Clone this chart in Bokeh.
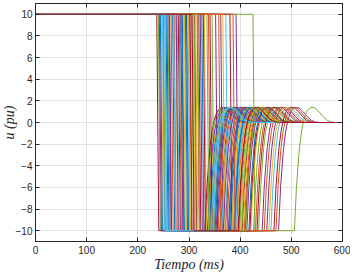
from bokeh.plotting import figure
from bokeh.models import Range1d, LinearAxis, FixedTicker, ColumnDataSource, CustomLabelingPolicy
from bokeh.embed import file_html
from bokeh.resources import INLINE

# Switching instants (ms): drop 10 -> -10, rise from -10
t_drop = [268, 301, 246, 392, 425, 283, 319, 255, 338, 274, 362, 240, 296, 311, 287, 249,
          330, 262, 305, 372, 279, 244, 316, 291, 352, 259, 298, 237, 325, 271, 308, 284,
          345, 253, 380, 293, 265, 313, 242, 335, 277, 302, 257, 358, 289, 322, 250, 270,
          341, 295, 281, 366, 261, 310, 248, 328, 286, 386, 299, 275, 317, 252, 306]
t_rise = [360, 393, 338, 475, 506, 378, 410, 349, 430, 365, 452, 333, 386, 404, 381, 344,
          421, 353, 399, 460, 371, 340, 408, 383, 443, 350, 391, 331, 417, 362, 401, 377,
          436, 346, 466, 388, 357, 406, 336, 426, 370, 396, 351, 447, 384, 413, 342, 364,
          433, 389, 374, 456, 355, 403, 343, 419, 379, 470, 394, 367, 411, 347, 397]

# Recovery waveform after the rise instant (offset ms, value pu)
rise_offset = [0, 2, 4, 7, 10, 14, 19, 25, 32, 40, 48, 56, 64, 72, 80]
rise_value = [-10, -8, -6, -4, -2.3, -0.8, 0.4, 1.1, 1.4, 1.35, 1.0, 0.55, 0.2, 0.05, 0]
u_high = 10
u_low = -10
drop_time = 4
t_end = 600

x_ticks = [0, 100, 200, 300, 400, 500, 600]
y_ticks = [-10, -8, -6, -4, -2, 0, 2, 4, 6, 8, 10]

matlab_colors = ["#0072BD", "#D95319", "#EDB120", "#7E2F8E", "#77AC30", "#4DBEEE", "#A2142F"]

xs, ys, cols = [], [], []
for i, (a, b) in enumerate(zip(t_drop, t_rise)):
    x = [0, a, a + drop_time, b] + [b + o for o in rise_offset[1:]] + [t_end]
    y = [u_high, u_high, u_low, u_low] + rise_value[1:] + [0]
    xs.append(x)
    ys.append(y)
    cols.append(matlab_colors[i % len(matlab_colors)])

src = ColumnDataSource(dict(xs=xs, ys=ys, color=cols))

p = figure(width=352, height=274, x_range=Range1d(0, 600), y_range=Range1d(-11, 11),
           output_backend="svg", toolbar_location=None,
           min_border_left=36, min_border_right=8, min_border_top=3, min_border_bottom=31,
           margin=(0, 0, 0, -2))
p.background_fill_color = "white"
p.border_fill_color = "white"
p.outline_line_color = "#262626"
p.outline_line_width = 1
p.outline_line_alpha = 1

p.multi_line(xs="xs", ys="ys", line_color="color", line_width=1, source=src)

tick_font = "Liberation Sans"
for ax in (p.xaxis[0], p.yaxis[0]):
    ax.axis_line_color = "#262626"
    ax.major_tick_line_color = "#262626"
    ax.major_tick_in = 4
    ax.major_tick_out = 0
    ax.minor_tick_line_color = None
    ax.major_label_text_font = tick_font
    ax.major_label_text_font_size = "10px"
    ax.major_label_text_color = "#262626"
    ax.axis_label_text_font = "Liberation Serif"
    ax.axis_label_text_font_style = "italic"
    ax.axis_label_text_font_size = "14px"
    ax.axis_label_text_color = "#262626"

p.xaxis.ticker = FixedTicker(ticks=x_ticks)
p.yaxis.ticker = FixedTicker(ticks=y_ticks)
p.xaxis.axis_label = "Tiempo (ms)"
p.yaxis.axis_label = "u (pu)"
p.xaxis.major_label_standoff = 4
p.yaxis.major_label_standoff = 3
p.xaxis.axis_label_standoff = 0
p.yaxis.axis_label_standoff = -4

for loc, ticks in (("above", x_ticks), ("right", y_ticks)):
    ax = LinearAxis(ticker=FixedTicker(ticks=ticks), major_label_text_font_size="0px",
                    major_label_policy=CustomLabelingPolicy(code="return []"),
                    major_label_standoff=0, major_tick_in=4, major_tick_out=0,
                    minor_tick_line_color=None, axis_line_color="#262626",
                    major_tick_line_color="#262626")
    p.add_layout(ax, loc)

p.xgrid.ticker = FixedTicker(ticks=x_ticks)
p.ygrid.ticker = FixedTicker(ticks=y_ticks)
p.xgrid.grid_line_color = "#e0e0e0"
p.ygrid.grid_line_color = "#e0e0e0"

open("out.html", "w").write(file_html(p, INLINE))
